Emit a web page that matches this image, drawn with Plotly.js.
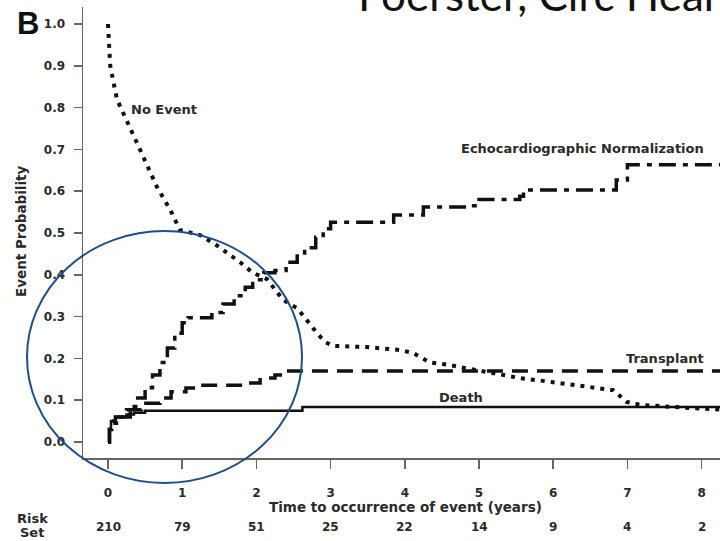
<!DOCTYPE html>
<html>
<head>
<meta charset="utf-8">
<script src="https://cdn.plot.ly/plotly-3.0.1.min.js"></script>
<style>html,body{margin:0;padding:0;background:#fff;}#chart{width:720px;height:541px;}</style>
</head>
<body>
<div id="chart"></div>
<script>
// ---- data ----
const xTicks = [0, 1, 2, 3, 4, 5, 6, 7, 8];
const riskSet = [210, 79, 51, 25, 22, 14, 9, 4, 2];
const yTicks = [0, 0.1, 0.2, 0.3, 0.4, 0.5, 0.6, 0.7, 0.8, 0.9, 1.0];
const yTickText = ['0.0','0.1','0.2','0.3','0.4','0.5','0.6','0.7','0.8','0.9','1.0'];

const timeNoEvent = [0, 0.03, 0.12, 0.27, 0.43, 0.66, 0.84, 0.97, 1.24, 1.47, 1.78, 1.95, 2.14, 2.36, 2.55, 2.82, 2.92, 3.03, 3.49, 3.94, 4.11, 4.34, 4.57, 4.97, 5.32, 5.55, 5.96, 6.32, 6.81, 6.99, 7.17, 7.88, 8.3];
const probNoEvent = [1.0, 0.9, 0.82, 0.76, 0.70, 0.61, 0.555, 0.507, 0.495, 0.47, 0.43, 0.405, 0.39, 0.34, 0.32, 0.26, 0.24, 0.23, 0.227, 0.22, 0.213, 0.19, 0.185, 0.172, 0.16, 0.153, 0.144, 0.136, 0.124, 0.096, 0.089, 0.081, 0.077];

const timeEcho = [0, 0.02, 0.05, 0.15, 0.3, 0.4, 0.5, 0.6, 0.7, 0.8, 0.9, 1.0, 1.08, 1.4, 1.55, 1.7, 1.85, 1.95, 2.1, 2.25, 2.4, 2.55, 2.65, 2.8, 2.9, 3.0, 3.85, 4.25, 4.9, 5.0, 5.55, 5.6, 6.85, 7.0, 8.3];
const probEcho = [0.0, 0.03, 0.045, 0.06, 0.085, 0.105, 0.13, 0.16, 0.19, 0.225, 0.26, 0.285, 0.297, 0.31, 0.33, 0.35, 0.37, 0.388, 0.405, 0.41, 0.43, 0.445, 0.465, 0.49, 0.51, 0.526, 0.543, 0.562, 0.565, 0.58, 0.588, 0.603, 0.627, 0.663, 0.663];

const timeTransplant = [0, 0.02, 0.05, 0.1, 0.25, 0.45, 0.7, 0.85, 1.05, 1.25, 1.85, 2.05, 2.25, 2.4, 8.3];
const probTransplant = [0.0, 0.03, 0.05, 0.06, 0.077, 0.093, 0.105, 0.12, 0.129, 0.136, 0.141, 0.153, 0.16, 0.17, 0.17];

const timeDeath = [0, 0.02, 0.04, 0.1, 0.25, 0.35, 0.5, 2.62, 8.3];
const probDeath = [0.0, 0.03, 0.05, 0.06, 0.066, 0.07, 0.075, 0.084, 0.084];

// ---- layout helpers (pixel -> paper) ----
const W = 720, H = 541;
const M = {l: 83, r: 0, t: 7, b: 83};
const PW = W - M.l - M.r, PH = H - M.t - M.b;
const px = x => (x - M.l) / PW;
const py = y => (H - M.b - y) / PH;

const labFont = {family: 'DejaVu Sans', size: 13, color: '#2a2a2a', weight: 'bold'};
const tickFont = {family: 'DejaVu Sans', size: 12, color: '#2a2a2a', weight: 'bold'};

const traces = [
  {x: timeNoEvent, y: probNoEvent, mode: 'lines', line: {color: '#111', width: 4, dash: '4px,6px'}, hoverinfo: 'skip'},
  {x: timeEcho, y: probEcho, mode: 'lines', line: {color: '#111', width: 3.5, dash: '17px,7px,5px,7px', shape: 'hv'}, hoverinfo: 'skip'},
  {x: timeTransplant, y: probTransplant, mode: 'lines', line: {color: '#111', width: 3.5, dash: '16px,9px', shape: 'hv'}, hoverinfo: 'skip'},
  {x: timeDeath, y: probDeath, mode: 'lines', line: {color: '#111', width: 2.5, shape: 'hv'}, hoverinfo: 'skip'}
];

const annotations = [
  {text: 'No Event', xref: 'paper', yref: 'paper', x: px(129), y: py(109), xanchor: 'left', yanchor: 'middle', showarrow: false, font: labFont},
  {text: 'Echocardiographic Normalization', xref: 'paper', yref: 'paper', x: px(459), y: py(148), xanchor: 'left', yanchor: 'middle', showarrow: false, font: labFont},
  {text: 'Transplant', xref: 'paper', yref: 'paper', x: px(624), y: py(358), xanchor: 'left', yanchor: 'middle', showarrow: false, font: labFont},
  {text: 'Death', xref: 'paper', yref: 'paper', x: px(437), y: py(397), xanchor: 'left', yanchor: 'middle', showarrow: false, font: labFont},
  {text: 'Event Probability', xref: 'paper', yref: 'paper', x: px(21), y: py(231), xanchor: 'center', yanchor: 'middle', textangle: -90, showarrow: false, font: {family: 'DejaVu Sans', size: 13.5, color: '#2a2a2a', weight: 'bold'}},
  {text: 'Time to occurrence of event (years)', xref: 'paper', yref: 'paper', x: px(405), y: py(507), xanchor: 'center', yanchor: 'middle', showarrow: false, font: {family: 'DejaVu Sans', size: 13.5, color: '#2a2a2a', weight: 'bold'}},
  {text: 'Risk', xref: 'paper', yref: 'paper', x: px(32), y: py(518), xanchor: 'center', yanchor: 'middle', showarrow: false, font: labFont},
  {text: 'Set', xref: 'paper', yref: 'paper', x: px(32), y: py(532), xanchor: 'center', yanchor: 'middle', showarrow: false, font: labFont},
  {text: 'B', xref: 'paper', yref: 'paper', x: px(28), y: py(23), xanchor: 'center', yanchor: 'middle', showarrow: false, font: {family: 'Liberation Sans', size: 31, color: '#111', weight: 'bold'}},
  {text: 'Foerster, Circ Heart', xref: 'paper', yref: 'paper', x: px(356), y: py(-6), xanchor: 'left', yanchor: 'middle', showarrow: false, font: {family: 'Lato', size: 44, color: '#111'}}
];
riskSet.forEach((n, i) => {
  annotations.push({text: String(n), xref: 'x', yref: 'paper', x: xTicks[i], y: py(527), xanchor: 'center', yanchor: 'middle', showarrow: false, font: tickFont});
});

const layout = {
  width: W, height: H,
  margin: M,
  paper_bgcolor: '#fff', plot_bgcolor: '#fff',
  showlegend: false,
  xaxis: {
    range: [(M.l - 108) / 74.2, (W - 108) / 74.2],
    tickvals: xTicks, ticktext: xTicks.map(String),
    ticks: 'outside', ticklen: 9, tickwidth: 1.5, tickcolor: '#666',
    showline: true, linecolor: '#666', linewidth: 1.5,
    showgrid: false, zeroline: false,
    tickfont: tickFont, ticklabelstandoff: 14
  },
  yaxis: {
    range: [(442 - (H - M.b)) / 418, (442 - M.t) / 418],
    tickvals: yTicks, ticktext: yTickText,
    ticks: 'outside', ticklen: 8, tickwidth: 1.5, tickcolor: '#666',
    showline: true, linecolor: '#666', linewidth: 1.5,
    showgrid: false, zeroline: false,
    tickfont: tickFont, ticklabelstandoff: 6
  },
  shapes: [
    {type: 'circle', xref: 'paper', yref: 'paper', x0: px(27), x1: px(302), y0: py(483), y1: py(231), line: {color: '#1f4e8c', width: 2}, layer: 'above'}
  ],
  annotations: annotations
};

Plotly.newPlot('chart', traces, layout, {staticPlot: true, displayModeBar: false});
</script>
</body>
</html>
